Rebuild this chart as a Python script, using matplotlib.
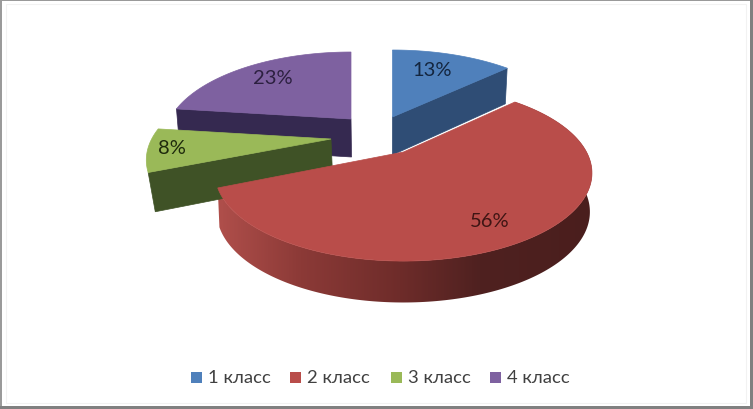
import numpy as np
import matplotlib.pyplot as plt
from matplotlib.colors import LinearSegmentedColormap
from matplotlib.patches import Polygon, Rectangle

plt.rcParams['font.family'] = ['Lato', 'Open Sans', 'DejaVu Sans']

# data
classes = ["1 класс", "2 класс", "3 класс", "4 класс"]
percent = [13, 56, 8, 23]

# look of the slices
top_colors = ["#4f80bb", "#b94d4a", "#9ab958", "#7e61a0"]
wall_colors = ["#2f4d75", "#6e2c2a", "#3f5226", "#352950"]
label_colors = ["#14263f", "#3f1514", "#1e2a0c", "#2c2040"]
apex = [(392.5, 118), (403.5, 153), (331, 140), (351, 120)]
label_pos = [(432, 70), (490, 222), (172, 149), (273, 78)]
radius_scale = [1, 1, 0.98, 0.99]
lower_scale = [0.985, 0.99, 0.97, 0.985]
turn = [0, -1.5, 0, 0]
draw_order = [3, 0, 2, 1]

R = 183
RY = 83
K = 0.239
H = 38

# red wall gets lighter to the left
wall_x = [205, 300, 400, 480, 600]
wall_c = ["#b5524e", "#8c3a37", "#6e2c2a", "#4f2120", "#4a1e1d"]


def rim(i, theta):
    a = apex[i]
    s = 1 / (1 + K * np.cos(theta))
    return a[0] + R * radius_scale[i] * np.sin(theta) * s, a[1] - RY * np.cos(theta) * s


def lower(i, x, y, theta):
    return 385 + (x - 385) * lower_scale[i], y + H * (1 - 0.09 * np.cos(theta))


fig = plt.figure(figsize=(7.53, 4.10), dpi=100)
ax = fig.add_axes([0, 0, 1, 1])

edges = np.radians(np.cumsum([0] + percent) * 3.6)

for i in draw_order:
    a = apex[i]
    t0 = edges[i] + np.radians(turn[i])
    t1 = edges[i + 1] + np.radians(turn[i])
    thetas = np.linspace(t0, t1, 200)
    xs, ys = rim(i, thetas)

    if i == 1:
        # outer wall, gradient clipped to the band under the rim
        bx, by = lower(i, xs, ys, thetas)
        band = Polygon(list(zip(xs, ys)) + list(zip(bx, by))[::-1], facecolor="none", edgecolor="none")
        ax.add_patch(band)
        stops = [(x - wall_x[0]) / (wall_x[-1] - wall_x[0]) for x in wall_x]
        cmap = LinearSegmentedColormap.from_list("wall", list(zip(stops, wall_c)))
        grad = np.linspace(0, 1, 400).reshape(1, -1)
        im = ax.imshow(grad, cmap=cmap, aspect="auto", extent=(wall_x[0], wall_x[-1], 320, 90))
        im.set_clip_path(band)
    else:
        # cut face of the slice
        t = t1 if i == 0 else t0
        ex, ey = rim(i, t)
        ax2, ay2 = lower(i, a[0], a[1], np.pi / 2)
        ex2, ey2 = lower(i, ex, ey, t)
        ax.add_patch(Polygon([a, (ex, ey), (ex2, ey2), (ax2, ay2)],
                             facecolor=wall_colors[i], edgecolor=wall_colors[i], lw=0.5, zorder=2))

    pts = [a] + list(zip(xs, ys))
    ax.add_patch(Polygon(pts, facecolor=top_colors[i], edgecolor=top_colors[i], lw=0.5, zorder=2))

for i in range(4):
    ax.text(label_pos[i][0], label_pos[i][1], "%d%%" % percent[i], ha="center", va="center",
            fontsize=14.5, color=label_colors[i], zorder=3)

# legend
legend_x = [191, 290, 391, 490]
for i in range(4):
    ax.add_patch(Rectangle((legend_x[i], 373), 11, 11, facecolor=top_colors[i], edgecolor="none"))
    ax.text(legend_x[i] + 17, 378.5, classes[i], ha="left", va="center", fontsize=13.3, color="#404040")

# picture frame
ax.add_patch(Rectangle((6, 5), 740, 399, fill=False, edgecolor="#f2f2f2", lw=0.8))
ax.add_patch(Rectangle((0, 0), 753, 2, facecolor="#9a9a9a", edgecolor="none"))
ax.add_patch(Rectangle((0, 0), 2, 410, facecolor="#9a9a9a", edgecolor="none"))
ax.add_patch(Rectangle((750, 0), 3, 410, facecolor="#808080", edgecolor="none"))
ax.add_patch(Rectangle((0, 407), 753, 3, facecolor="#808080", edgecolor="none"))

ax.set_xlim(0, 753)
ax.set_ylim(410, 0)
ax.axis("off")

plt.savefig("out.png", dpi=100)
